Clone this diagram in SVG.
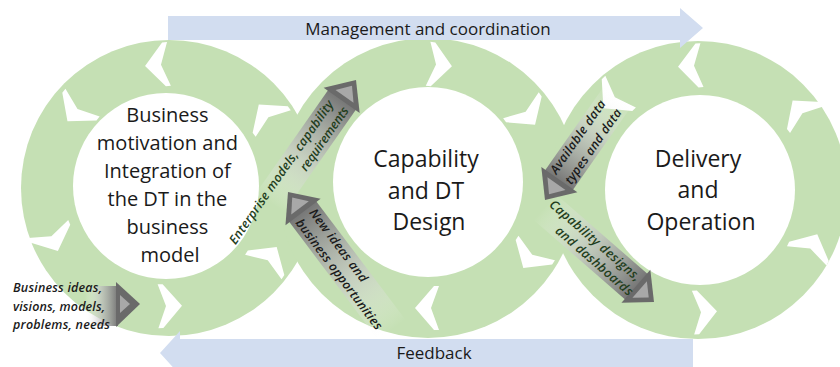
<svg xmlns="http://www.w3.org/2000/svg" width="840" height="367" viewBox="0 0 840 367">
<defs>
<style>
.ring{fill:#c5e0b4}
.hole{fill:#ffffff}
.chev{fill:#ffffff}
.band{fill:#d2ddf0}
.big{font-family:"Open Sans","Liberation Sans",sans-serif;fill:#1a1a1a;text-anchor:middle}
.lbl{font-family:"Open Sans","Liberation Sans",sans-serif;font-style:italic;font-weight:600;font-size:12.5px;fill:#1a1a1a}
.lblg{fill:#1f3d1c}
.head{fill:#6a6a6a}
.bev{fill:#a8a8a8}
</style>
<linearGradient id="gR" x1="0" y1="0" x2="1" y2="0">
<stop offset="0" stop-color="#ffffff" stop-opacity="0"/>
<stop offset="0.45" stop-color="#c4c4c4" stop-opacity="0.65"/>
<stop offset="1" stop-color="#757575" stop-opacity="1"/>
</linearGradient>
<linearGradient id="gL" x1="1" y1="0" x2="0" y2="0">
<stop offset="0" stop-color="#ffffff" stop-opacity="0"/>
<stop offset="0.45" stop-color="#c4c4c4" stop-opacity="0.65"/>
<stop offset="1" stop-color="#757575" stop-opacity="1"/>
</linearGradient>
<path id="chv" d="M-12,-22 L-7,-22 L12,0 L-7,22 L-12,22 L-4,0 Z"/>
</defs>

<g id="rings">
<circle class="ring" cx="169" cy="188" r="148"/>
<circle class="ring" cx="428" cy="188" r="150"/>
<circle class="ring" cx="698" cy="190" r="149"/>
</g>

<g id="node-business">
<circle class="hole" cx="166" cy="186" r="93"/>
<g class="chev">
<use href="#chv" transform="translate(157,65) rotate(175)"/>
<use href="#chv" transform="translate(75,112) rotate(129)"/>
<use href="#chv" transform="translate(53,240) rotate(66)"/>
<use href="#chv" transform="translate(170,306) rotate(-1)"/>
<use href="#chv" transform="translate(270,257) rotate(-56)"/>
<use href="#chv" transform="translate(266,114) rotate(-127)"/>
</g>
<text class="big" font-size="20">
<tspan x="170" y="122">Business</tspan>
<tspan x="170" y="150">motivation and</tspan>
<tspan x="170" y="178">Integration of</tspan>
<tspan x="170" y="206">the DT in the</tspan>
<tspan x="170" y="234">business</tspan>
<tspan x="170" y="262">model</tspan>
</text>
</g>

<g id="node-design">
<circle class="hole" cx="428" cy="182" r="95"/>
<g class="chev">
<use href="#chv" transform="translate(440,65) rotate(6)"/>
<use href="#chv" transform="translate(528,115) rotate(54)"/>
<use href="#chv" transform="translate(530,258) rotate(124)"/>
<use href="#chv" transform="translate(427,308) rotate(180)"/>
</g>
<text class="big" font-size="23">
<tspan x="429" y="167">Capability</tspan>
<tspan x="429" y="199">and DT</tspan>
<tspan x="429" y="230">Design</tspan>
</text>
</g>

<g id="node-delivery">
<circle class="hole" cx="700" cy="190" r="95"/>
<g class="chev">
<use href="#chv" transform="translate(690,66) rotate(176)"/>
<use href="#chv" transform="translate(612,100) rotate(136)"/>
<use href="#chv" transform="translate(800,110) rotate(-128)"/>
<use href="#chv" transform="translate(812,245) rotate(-64)"/>
<use href="#chv" transform="translate(705,312) rotate(-3)"/>
</g>
<text class="big" font-size="23">
<tspan x="701" y="167">Delivery</tspan>
<tspan x="701" y="198">and</tspan>
<tspan x="701" y="230">Operation</tspan>
</text>
</g>

<g id="management">
<polygon class="band" points="168,16 680,16 680,8 703,28 680,48 680,40 168,40"/>
<text class="big" font-size="17" x="428" y="35">Management and coordination</text>
</g>

<g id="feedback">
<polygon class="band" points="693,339 180,339 180,331 160,353 180,375 180,367 693,367"/>
<text class="big" font-size="17" x="434" y="359">Feedback</text>
</g>

<g id="connectors">
<g id="in-business">
<rect x="85" y="286" width="33" height="40" fill="url(#gR)"/>
<polygon class="head" points="116,282 140,304 116,327"/>
<polygon class="bev" points="120,295 130,304 120,313"/>
<text class="lbl">
<tspan x="13" y="292" textLength="89">Business ideas,</tspan>
<tspan x="13" y="311" textLength="92">visions, models,</tspan>
<tspan x="13" y="329" textLength="97">problems, needs</tspan>
</text>
</g>
<g id="a-enterprise" transform="translate(356,80) rotate(-55)">
<rect x="-150" y="-17" width="127" height="34" fill="url(#gR)"/>
<polygon class="head" points="0,0 -25,-22 -25,22"/>
<polygon class="bev" points="-7,0 -20,-11 -20,11"/>
<text class="lbl lblg" text-anchor="end">
<tspan x="-29" y="-4" textLength="172">Enterprise models, capability</tspan>
<tspan x="-29" y="12" textLength="75">requirements</tspan>
</text>
</g>
<g id="a-newideas" transform="translate(288,192) rotate(53)">
<rect x="23" y="-17" width="150" height="34" fill="url(#gL)"/>
<polygon class="head" points="0,0 25,-22 25,22"/>
<polygon class="bev" points="7,0 20,-11 20,11"/>
<text class="lbl">
<tspan x="29" y="-4" textLength="88">New ideas and</tspan>
<tspan x="29" y="13" textLength="135">business opportunities</tspan>
</text>
</g>
<g id="a-available" transform="translate(545,200) rotate(-55)">
<rect x="23" y="-17" width="105" height="34" fill="url(#gL)"/>
<polygon class="head" points="0,0 25,-22 25,22"/>
<polygon class="bev" points="7,0 20,-11 20,11"/>
<text class="lbl">
<tspan x="27" y="-5" textLength="87">Available data</tspan>
<tspan x="27" y="13" textLength="89">types and data</tspan>
</text>
</g>
<g id="a-capability" transform="translate(654,302) rotate(41)">
<rect x="-145" y="-17" width="123" height="34" fill="url(#gR)"/>
<polygon class="head" points="0,0 -24,-22 -24,22"/>
<polygon class="bev" points="-7,0 -19,-11 -19,11"/>
<text class="lbl lblg" text-anchor="end">
<tspan x="-23" y="-3.5" textLength="116">Capability designs,</tspan>
<tspan x="-23" y="12.5" textLength="98">and dashboards</tspan>
</text>
</g>
</g>
</svg>
